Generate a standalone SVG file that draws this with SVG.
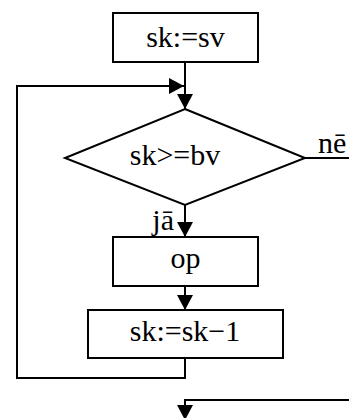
<svg xmlns="http://www.w3.org/2000/svg" width="349" height="418" viewBox="0 0 349 418">
  <style>
    .box { fill: #fff; stroke: #000; stroke-width: 2; }
    .line { fill: none; stroke: #000; stroke-width: 2; }
    .lbl { font-family: "Liberation Serif", "Times New Roman", serif; font-size: 30px; fill: #000; }
  </style>
  <defs>
    <marker id="arrow" viewBox="0 0 15 16" refX="15" refY="8" markerWidth="15" markerHeight="16" markerUnits="userSpaceOnUse" orient="auto">
      <path d="M0,0 L15,8 L0,16 Z" fill="#000"/>
    </marker>
  </defs>

  <g id="connectors">
    <!-- start -> decision -->
    <line class="line" x1="185" y1="62" x2="185" y2="109" marker-end="url(#arrow)"/>
    <!-- loop back into the decision -->
    <polyline class="line" points="185,358 185,378 17,378 17,86 184,86" marker-end="url(#arrow)"/>
    <!-- no branch -->
    <line class="line" x1="305" y1="158" x2="349" y2="158"/>
    <!-- yes branch -->
    <line class="line" x1="185" y1="205" x2="185" y2="237" marker-end="url(#arrow)"/>
    <!-- op -> decrement -->
    <line class="line" x1="185" y1="286" x2="185" y2="310" marker-end="url(#arrow)"/>
    <!-- exit continues below -->
    <polyline class="line" points="349,400 185,400 185,420" marker-end="url(#arrow)"/>
    <text class="lbl" x="318" y="153">nē</text>
    <text class="lbl" x="174" y="230" text-anchor="end">jā</text>
  </g>

  <g id="init">
    <rect class="box" x="113" y="13" width="145" height="49"/>
    <text class="lbl" x="185.5" y="47" text-anchor="middle">sk:=sv</text>
  </g>

  <g id="test">
    <polygon class="box" points="185,109 305,158 185,205 65,158"/>
    <text class="lbl" x="175" y="165" text-anchor="middle">sk&gt;=bv</text>
  </g>

  <g id="op">
    <rect class="box" x="113" y="237" width="145" height="49"/>
    <text class="lbl" x="185.5" y="268" text-anchor="middle">op</text>
  </g>

  <g id="decrement">
    <rect class="box" x="88" y="310" width="195" height="48"/>
    <text class="lbl" x="185" y="341" text-anchor="middle">sk:=sk−1</text>
  </g>
</svg>
